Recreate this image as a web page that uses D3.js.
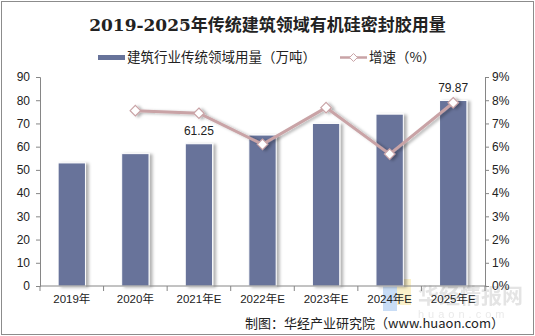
<!DOCTYPE html>
<html><head><meta charset="utf-8">
<script src="https://cdn.jsdelivr.net/npm/d3@7"></script>
<style>body{margin:0;background:#fff}svg{display:block}</style>
</head><body>
<script>
const categories = ["2019年","2020年","2021年E","2022年E","2023年E","2024年E","2025年E"];
const usage = [53.0, 57.0, 61.25, 65.0, 70.0, 74.0, 79.87];
const growth = [null, 7.55, 7.44, 6.10, 7.68, 5.68, 7.89];
const leftTicks = [0,10,20,30,40,50,60,70,80,90];
const rightTicks = [0,1,2,3,4,5,6,7,8,9];
const labeled = {"2021年E": "61.25", "2025年E": "79.87"};

const W = 535, H = 336;
const m = {l:40, r:50, t:77, b:50};
const svg = d3.select("body").append("svg").attr("width", W).attr("height", H);
const font = "'Liberation Sans', Arial, 'Noto Sans CJK SC', sans-serif";

const defs = svg.append("defs");
const f = defs.append("filter").attr("id","sh").attr("x","-20%").attr("y","-10%").attr("width","160%").attr("height","120%");
f.append("feDropShadow").attr("dx",3).attr("dy",1).attr("stdDeviation",1.5).attr("flood-color","#000").attr("flood-opacity",0.3);

svg.append("rect").attr("x",1.5).attr("y",1.5).attr("width",W-3).attr("height",H-3).attr("fill","#fff").attr("stroke","#8c8c8c");

svg.append("text").attr("x", W/2).attr("y", 31).attr("text-anchor","middle")
  .attr("font-family","'DejaVu Serif', 'Noto Sans CJK SC', serif").attr("font-weight","bold").attr("font-size",17).attr("fill","#222")
  .text("2019-2025年传统建筑领域有机硅密封胶用量");

const x = d3.scaleBand().domain(categories).range([m.l, W-m.r]).paddingInner(0.57).paddingOuter(0.285);
const xb = d3.scaleBand().domain(categories).range([m.l, W-m.r]);
const yL = d3.scaleLinear().domain([0,90]).range([H-m.b, m.t]);
const yR = d3.scaleLinear().domain([0,9]).range([H-m.b, m.t]);

// watermark
const wm = svg.append("g").attr("opacity",0.55);
wm.append("rect").attr("x",383).attr("y",283).attr("width",14).attr("height",28).attr("fill","#9ec3f0");
wm.append("rect").attr("x",397).attr("y",279).attr("width",14).attr("height",26).attr("fill","#f6e6a0");
wm.append("text").attr("x",418).attr("y",303).attr("font-family","'Noto Sans CJK SC'").attr("font-weight","bold").attr("font-size",21).attr("fill","#cfcfcf").text("华经情报网");
wm.append("text").attr("x",418).attr("y",318).attr("font-family",font).attr("font-size",11).attr("letter-spacing","4").attr("fill","#d8d8d8").text("huaon.com");

// bars
svg.append("g").selectAll("rect").data(categories).join("rect")
  .attr("x", d => x(d)).attr("width", x.bandwidth())
  .attr("y", (d,i) => yL(usage[i])).attr("height", (d,i) => yL(0)-yL(usage[i]))
  .attr("fill","#67739a").attr("stroke","#fff").attr("stroke-width",1).attr("filter","url(#sh)");

// axes
const axC = "#868686";
const gL = svg.append("g").attr("transform",`translate(${m.l},0)`)
  .call(d3.axisLeft(yL).tickValues(leftTicks).tickSize(4).tickPadding(6));
const gR = svg.append("g").attr("transform",`translate(${W-m.r},0)`)
  .call(d3.axisRight(yR).tickValues(rightTicks).tickSize(4).tickPadding(3).tickFormat(d => d + "%"));
const gX = svg.append("g").attr("transform",`translate(0,${H-m.b})`)
  .call(d3.axisBottom(xb).tickSize(0).tickPadding(9));
[gL,gR,gX].forEach(g => {
  g.selectAll("path,line").attr("stroke",axC);
  g.selectAll("text").attr("font-family",font).attr("font-size",12).attr("fill","#222");
});
gX.select(".domain").attr("d", `M${m.l},0H${W-m.r}`);
gX.selectAll("text").attr("font-size",11.5);
const bounds = categories.map(c => xb(c)).concat([W-m.r]);
gX.selectAll(".bt").data(bounds).join("line").attr("class","bt")
  .attr("x1", d=>d).attr("x2", d=>d).attr("y1",0).attr("y2",5).attr("stroke",axC);

// line
const pts = categories.map((c,i) => ({c, v: growth[i]})).filter(d => d.v != null);
const lineG = svg.append("g").attr("filter","url(#sh)");
lineG.append("path").datum(pts)
  .attr("d", d3.line().x(d => xb(d.c)+xb.bandwidth()/2).y(d => yR(d.v)))
  .attr("fill","none").attr("stroke","#c9a3a6").attr("stroke-width",3);
lineG.selectAll("path.mk").data(pts).join("path").attr("class","mk")
  .attr("transform", d => `translate(${xb(d.c)+xb.bandwidth()/2},${yR(d.v)})`)
  .attr("d", d3.symbol(d3.symbolDiamond2, 70)())
  .attr("fill","#fff").attr("stroke","#c9a3a6").attr("stroke-width",1.2);

// value labels
svg.append("g").selectAll("text").data(categories.filter(c => labeled[c])).join("text")
  .attr("x", c => x(c)+x.bandwidth()/2).attr("y", c => yL(usage[categories.indexOf(c)]) - 9)
  .attr("text-anchor","middle").attr("font-family",font).attr("font-size",12).attr("fill","#222")
  .text(c => labeled[c]);

// legend
const lg = svg.append("g");
lg.append("rect").attr("x",98).attr("y",55).attr("width",27).attr("height",5).attr("fill","#67739a");
lg.append("text").attr("x",127).attr("y",62).attr("font-family","'Noto Sans CJK SC'").attr("font-size",13.5).attr("fill","#222").text("建筑行业传统领域用量（万吨）");
lg.append("line").attr("x1",340).attr("x2",367).attr("y1",57.5).attr("y2",57.5).attr("stroke","#c9a3a6").attr("stroke-width",2.5);
lg.append("path").attr("transform","translate(353.5,57.5)").attr("d", d3.symbol(d3.symbolDiamond2, 40)())
  .attr("fill","#fff").attr("stroke","#c9a3a6").attr("stroke-width",1);
lg.append("text").attr("x",369).attr("y",62).attr("font-family","'Noto Sans CJK SC'").attr("font-size",13.5).attr("fill","#222").text("增速（%）");

// source
svg.append("text").attr("x",504).attr("y",328).attr("text-anchor","end")
  .attr("font-family","'Noto Sans CJK SC', sans-serif").attr("font-size",13).attr("fill","#222")
  .text("制图：华经产业研究院（www.huaon.com）");
</script>
</body></html>
